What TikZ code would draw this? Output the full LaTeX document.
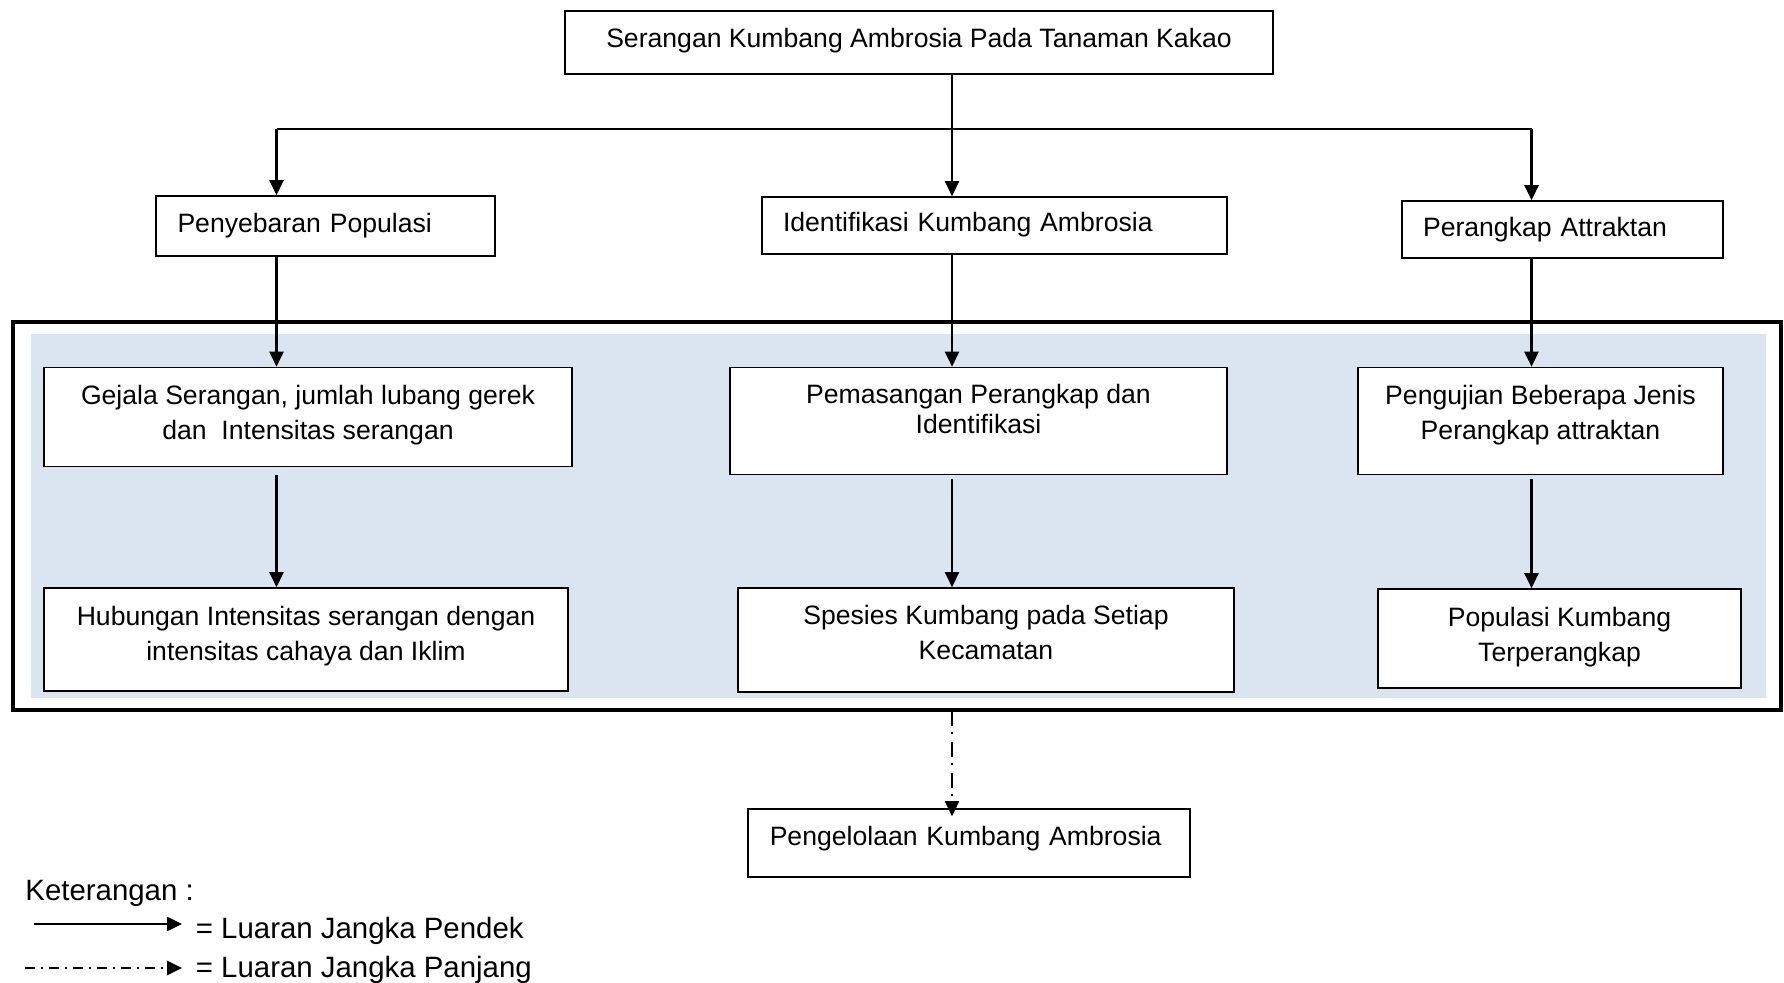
\documentclass[tikz,border=0pt]{standalone}
\usepackage{fontspec}
\setmainfont{Liberation Sans}
\usepackage{tikz}
\usetikzlibrary{arrows.meta}
\definecolor{birumuda}{RGB}{219,229,241}
\newcommand{\turun}[1]{\rule[-#1]{0pt}{0pt}}

\begin{document}
\begin{tikzpicture}[x=0.5pt,y=-0.5pt]
            \tikzstyle{kotak}=[draw,line width=0.8pt,fill=white,inner sep=0pt,font=\fontsize{13.3}{17.5}\selectfont]
            \tikzstyle{kiri}=[kotak,align=left]
            \tikzstyle{tengah}=[kotak,align=center]
            \tikzstyle{panah}=[line width=1.25pt,-{Triangle[length=7.5pt,width=7pt]}]
            \tikzstyle{garis}=[line width=1.1pt]
            \tikzstyle{titiktitik}=[line width=1.3pt,dash pattern=on 7.5pt off 3pt on 1pt off 4pt,-{Triangle[length=7.5pt,width=7pt]}]
            \useasboundingbox (0,0) rectangle (1784,983);
            \draw[line width=2pt] (12.5,322) rectangle (1781,710);
            \fill[birumuda] (31,334.5) rectangle (1766,698.5);
            \node[tengah,minimum width=354pt,minimum height=31.5pt] (serangan) at (919,42.5) {Serangan Kumbang Ambrosia Pada Tanaman Kakao\turun{5pt}};
            \node[kiri,minimum width=169.5pt,minimum height=30pt,text width=148pt] (penyebaran) at (325.5,226) {Penyebaran Populasi};
            \node[kiri,minimum width=232.5pt,minimum height=28.5pt,text width=211.5pt] (identifikasi) at (994.5,225.5) {Identifikasi Kumbang Ambrosia\turun{3.5pt}};
            \node[kiri,minimum width=160.5pt,minimum height=28.5pt,text width=139.5pt] (perangkap) at (1562.5,229.5) {Perangkap Attraktan};
            \node[tengah,minimum width=264pt,minimum height=49.5pt] (gejala) at (308,417) {Gejala Serangan, jumlah lubang gerek\\dan \ Intensitas serangan\turun{5pt}};
            \node[tengah,minimum width=248.5pt,minimum height=53.5pt,font=\fontsize{13.3}{15}\selectfont] (pemasangan) at (978.5,421) {Pemasangan Perangkap dan\\Identifikasi\turun{12pt}};
            \node[tengah,minimum width=182.5pt,minimum height=53.5pt] (pengujian) at (1540.5,421) {Pengujian Beberapa Jenis\\Perangkap attraktan\turun{9pt}};
            \node[tengah,minimum width=262pt,minimum height=51.5pt] (hubungan) at (306,639.5) {Hubungan Intensitas serangan dengan\\intensitas cahaya dan Iklim\turun{6.2pt}};
            \node[tengah,minimum width=248pt,minimum height=52pt] (spesies) at (986,640) {Spesies Kumbang pada Setiap\\Kecamatan\turun{7.4pt}};
            \node[tengah,minimum width=181.5pt,minimum height=49.5pt] (populasi) at (1559.5,638.5) {Populasi Kumbang\\Terperangkap\turun{4.5pt}};
            \node[kiri,minimum width=221pt,minimum height=34pt,text width=199pt] (pengelolaan) at (968.75,843) {Pengelolaan Kumbang Ambrosia\turun{7.3pt}};
            \coordinate (cabang) at (952,129);
            \coordinate (cabangkiri) at (276.5,129);
            \coordinate (cabangkanan) at (1531.5,129);
            \draw[garis] (serangan.south -| cabang) -- (cabang);
            \draw[garis] (cabangkiri) -- (cabangkanan);
            \draw[panah] (cabangkiri) -- (penyebaran.north -| cabangkiri);
            \draw[panah] (cabang) -- (identifikasi.north -| cabang);
            \draw[panah] (cabangkanan) -- (perangkap.north -| cabangkanan);
            \draw[panah] (penyebaran.south -| cabangkiri) -- (gejala.north -| cabangkiri);
            \draw[panah] (identifikasi.south -| cabang) -- (pemasangan.north -| cabang);
            \draw[panah] (perangkap.south -| cabangkanan) -- (pengujian.north -| cabangkanan);
            \draw[panah,shorten <=4pt] (gejala.south -| cabangkiri) -- (hubungan.north -| cabangkiri);
            \draw[panah,shorten <=2pt] (pemasangan.south -| cabang) -- (spesies.north -| cabang);
            \draw[panah,shorten <=2pt] (pengujian.south -| cabangkanan) -- (populasi.north -| cabangkanan);
            \draw[titiktitik] (952,711) -- ([yshift=-4pt]pengelolaan.north -| cabang);
            \node[anchor=west,inner sep=0pt,font=\fontsize{14.7}{17}\selectfont] (keterangan) at (25,893) {Keterangan :};
            \coordinate (pendek1) at (34,924);
            \coordinate (pendek2) at (182,924);
            \coordinate (panjang1) at (25,968);
            \coordinate (panjang2) at (182,968);
            \draw[panah] (pendek1) -- (pendek2);
            \draw[titiktitik,dash pattern=on 5pt off 3pt on 1pt off 3pt] (panjang1) -- (panjang2);
            \node[anchor=west,inner sep=0pt,font=\fontsize{14.7}{17}\selectfont] (luaranpendek) at (195.5,931) {= Luaran Jangka Pendek};
            \node[anchor=west,inner sep=0pt,font=\fontsize{14.7}{17}\selectfont] (luaranpanjang) at (195.5,970) {= Luaran Jangka Panjang};
        \end{tikzpicture}
\end{document}
